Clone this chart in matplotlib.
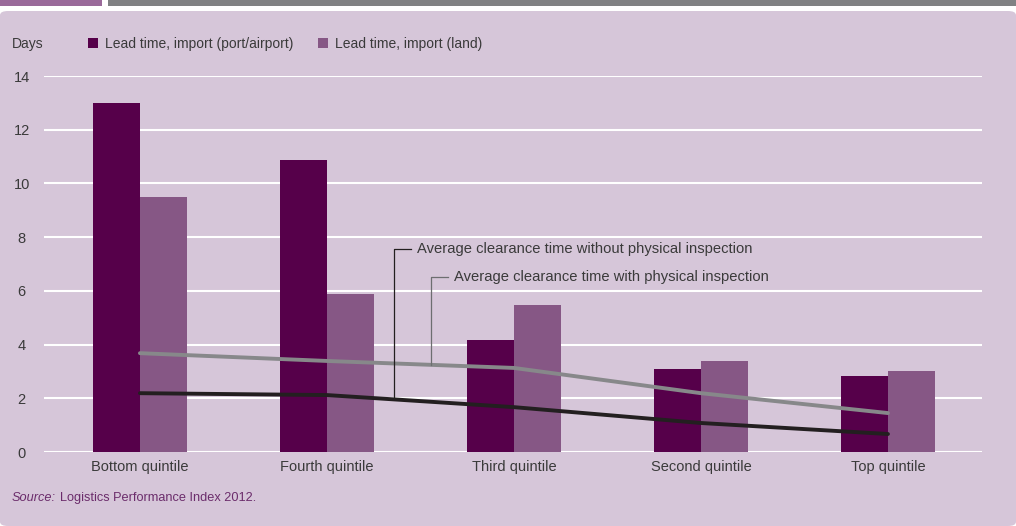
import numpy as np
import matplotlib.pyplot as plt
from matplotlib.patches import Rectangle, FancyBboxPatch

plt.rcParams['font.family'] = ['Liberation Sans', 'DejaVu Sans']

# дані
quintiles = ["Bottom quintile", "Fourth quintile", "Third quintile", "Second quintile", "Top quintile"]
port_airport = [13.0, 10.88, 4.16, 3.08, 2.82]
land = [9.5, 5.87, 5.46, 3.38, 3.0]
with_inspection = [3.68, 3.39, 3.13, 2.19, 1.45]
without_inspection = [2.19, 2.12, 1.67, 1.08, 0.67]

dark = "#56004A"
light = "#865785"
bg = "#D6C6D9"
txt = "#3A3A3A"
fs = 10

W, H = 1016, 526
fig = plt.figure(figsize=(W / 100, H / 100), dpi=100)
fig.patch.set_facecolor("white")

# рамка і смуги зверху
fig.patches.append(FancyBboxPatch((0, 0), 1, (H - 11) / H, boxstyle="round,pad=0,rounding_size=0.008",
                                  transform=fig.transFigure, facecolor=bg, edgecolor="none", zorder=-5))
fig.patches.append(Rectangle((0, 1 - 6 / H), 102 / W, 6 / H, transform=fig.transFigure,
                             facecolor="#9A6A9A", edgecolor="none", zorder=-5))
fig.patches.append(Rectangle((108 / W, 1 - 6 / H), 1, 6 / H, transform=fig.transFigure,
                             facecolor="#808183", edgecolor="none", zorder=-5))

ax = fig.add_axes([44 / W, 74 / H, (982 - 44) / W, (452 - 76) / H])
ax.set_facecolor("none")
ax.set_zorder(2)

x = np.arange(len(quintiles))
w = 0.25
b1 = ax.bar(x - w / 2, port_airport, w, color=dark, zorder=2, label="Lead time, import (port/airport)")
b2 = ax.bar(x + w / 2, land, w, color=light, zorder=2, label="Lead time, import (land)")

ax.plot(x, with_inspection, color="#87888A", lw=2.8, zorder=3, solid_capstyle="round")
ax.plot(x, without_inspection, color="#231F20", lw=2.8, zorder=3, solid_capstyle="round")

ax.set_xlim(-0.513, 4.503)
ax.set_ylim(0, 14)
ax.set_yticks(range(0, 15, 2))
ax.yaxis.grid(True, color="white", lw=1.5, zorder=1)
ax.set_axisbelow(True)
for s in ax.spines.values():
    s.set_visible(False)
ax.tick_params(axis="both", length=0, labelsize=fs + 0.5, colors=txt)
ax.tick_params(axis="y", pad=16)
for lab in ax.get_yticklabels():
    lab.set_ha("center")
ax.set_xticks(x)
ax.set_xticklabels(quintiles)
ax.tick_params(axis="x", pad=6)

# підписи ліній
xa = 1.358
ya = np.interp(xa, x, without_inspection)
ax.plot([xa, xa, 1.449], [ya, 7.54, 7.54], color="#231F20", lw=0.9, zorder=3)
ax.text(1.481, 7.54, "Average clearance time without physical inspection", va="center",
        fontsize=10.6, color=txt)
xb = 1.556
yb = np.interp(xb, x, with_inspection)
ax.plot([xb, xb, 1.647], [yb, 6.5, 6.5], color="#6D6E70", lw=0.9, zorder=3)
ax.text(1.679, 6.5, "Average clearance time with physical inspection", va="center",
        fontsize=10.6, color=txt)

fig.text(12 / W, 1 - 44 / H, "Days", va="center", fontsize=fs, color=txt)
fig.legend(handles=[b1, b2], loc="center left", bbox_to_anchor=(88 / W, 1 - 44 / H), ncol=2,
           frameon=False, fontsize=fs, labelcolor=txt, handlelength=0.7, handleheight=0.7,
           handletextpad=0.5, columnspacing=1.8, borderaxespad=0, borderpad=0)

src = fig.text(12 / W, 1 - 498 / H, "Source:", style="italic", va="center", fontsize=9.2, color="#6B2C6B")
fig.canvas.draw()
bb = src.get_window_extent()
fig.text((bb.x1 + 4) / W, 1 - 498 / H, "Logistics Performance Index 2012.", va="center",
         fontsize=9.2, color="#6B2C6B")

fig.savefig("out.png", dpi=100, facecolor=fig.get_facecolor())
